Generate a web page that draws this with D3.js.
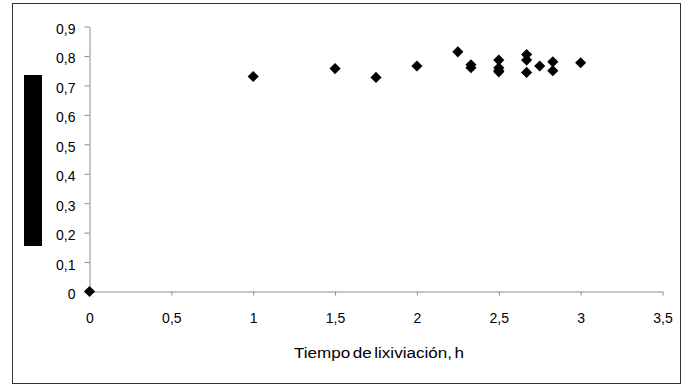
<!DOCTYPE html>
<html>
<head>
<meta charset="utf-8">
<script src="https://cdn.jsdelivr.net/npm/d3@7"></script>
<style>
  body { margin: 0; background: #fff; }
  svg { display: block; font-family: "Liberation Sans", Arial, sans-serif; }
</style>
</head>
<body>
<svg id="chart"></svg>
<script>
const width = 687;
const height = 387;

// leaching time (h) and extracted fraction
const tiempo = [0, 1, 1.5, 1.75, 2, 2.25, 2.33, 2.33, 2.5, 2.5, 2.5, 2.5, 2.67, 2.67, 2.67, 2.75, 2.83, 2.83, 3];
const valor = [0, 0.73, 0.757, 0.727, 0.766, 0.814, 0.77, 0.76, 0.786, 0.76, 0.75, 0.746, 0.805, 0.786, 0.744, 0.766, 0.78, 0.75, 0.777];

const xTicks = [0, 0.5, 1, 1.5, 2, 2.5, 3, 3.5];
const yTicks = [0, 0.1, 0.2, 0.3, 0.4, 0.5, 0.6, 0.7, 0.8, 0.9];
const xTitle = "Tiempo de lixiviación, h";

const svg = d3.select("#chart")
    .attr("width", width)
    .attr("height", height);

// outer frame
svg.append("rect")
    .attr("x", 12.5).attr("y", 3.5)
    .attr("width", 668).attr("height", 380)
    .attr("fill", "#fff")
    .attr("stroke", "#333");

const xScale = d3.scaleLinear().domain([0, 3.5]).range([89.5, 662.5]);
const yScale = d3.scaleLinear().domain([0, 0.9]).range([291.5, 26.5]);

const comma = d => String(d).replace(".", ",");

const xAxis = svg.append("g")
    .attr("transform", `translate(0, ${yScale(0)})`)
    .call(d3.axisBottom(xScale).tickValues(xTicks).tickFormat(comma).tickSize(4).tickSizeOuter(0));

const yAxis = svg.append("g")
    .attr("transform", `translate(${xScale(0)}, 0)`)
    .call(d3.axisLeft(yScale).tickValues(yTicks).tickFormat(comma).tickSize(5).tickSizeOuter(0));

[xAxis, yAxis].forEach(g => {
    g.select(".domain").attr("stroke", "#8c8c8c");
    g.selectAll(".tick line").attr("stroke", "#8c8c8c");
    g.selectAll(".tick text").attr("fill", "#000").style("font-size", "14px");
});
xAxis.selectAll(".tick text").attr("dy", 0).attr("y", 31.5);
yAxis.selectAll(".tick text").attr("x", -14).attr("dy", "0.5em");

// hidden y-axis title block
svg.append("rect")
    .attr("x", 24).attr("y", 75)
    .attr("width", 18).attr("height", 171)
    .attr("fill", "#000");

svg.selectAll(".pt")
    .data(tiempo.map((t, i) => ({ t, v: valor[i] })))
    .enter()
    .append("path")
    .attr("class", "pt")
    .attr("d", d3.symbol(d3.symbolSquare, 62))
    .attr("transform", d => `translate(${xScale(d.t)}, ${yScale(d.v)}) rotate(45)`)
    .attr("fill", "#000");

svg.append("text")
    .attr("x", 379)
    .attr("y", 358)
    .attr("text-anchor", "middle")
    .style("font-size", "15.5px")
    .attr("word-spacing", "-2px")
    .attr("textLength", 170)
    .attr("lengthAdjust", "spacingAndGlyphs")
    .text(xTitle);
</script>
</body>
</html>
